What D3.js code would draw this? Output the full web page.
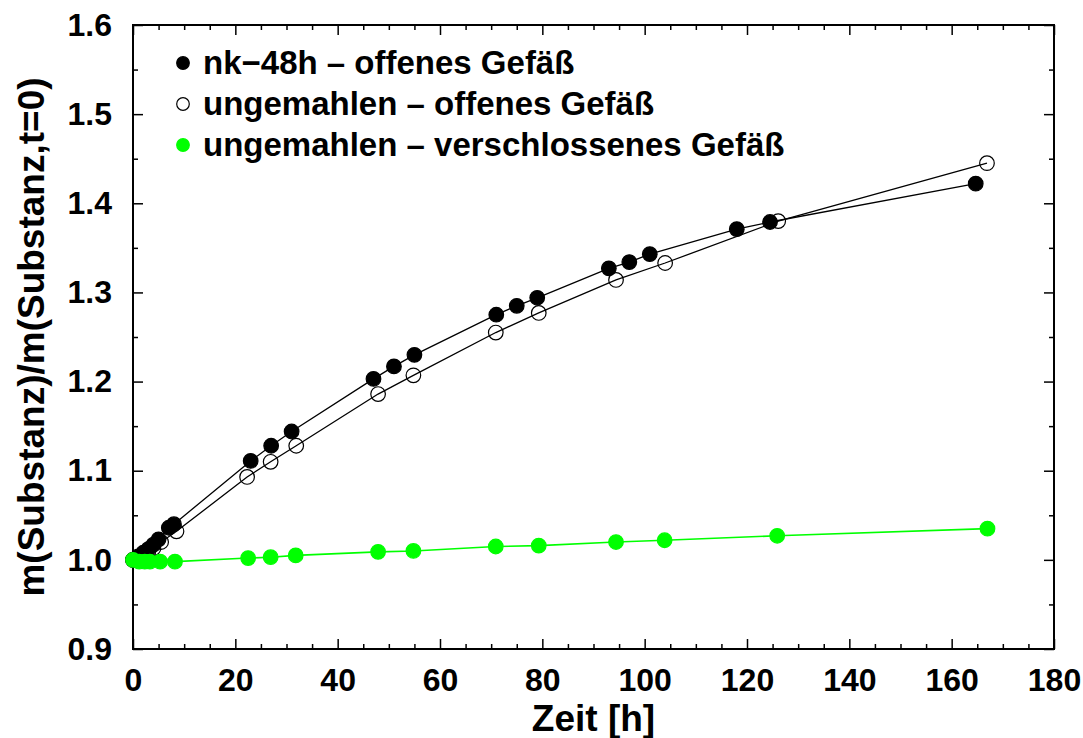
<!DOCTYPE html>
<html>
<head>
<meta charset="utf-8">
<script src="https://cdn.jsdelivr.net/npm/d3@7"></script>
<style>
  body { margin: 0; background: #fff; }
  svg text { font-family: "Liberation Sans", Arial, sans-serif; font-weight: bold; }
</style>
</head>
<body>
<div class="chart"></div>
<script>
var w = 1083;
var h = 738;

// nk-48h - offenes Gefäß
var timeNk = [0, 1, 2, 3, 4, 5, 7, 8, 23, 27, 31, 47, 51, 55, 71, 75, 79, 93, 97, 101, 118, 124.5, 164.7];
var massNk = [1.000, 1.004, 1.008, 1.012, 1.017, 1.023, 1.036, 1.040, 1.111, 1.128, 1.144, 1.203, 1.217, 1.230,
              1.275, 1.285, 1.294, 1.327, 1.334, 1.343, 1.371, 1.379, 1.422];

// ungemahlen - offenes Gefäß
var timeOpen = [0, 1, 2, 3, 4, 5.5, 8.5, 22.3, 26.9, 31.9, 47.9, 54.8, 70.9, 79.3, 94.4, 104, 126.1, 166.9];
var massOpen = [1.000, 1.002, 1.005, 1.009, 1.013, 1.020, 1.032, 1.093, 1.110, 1.128, 1.186, 1.207,
                1.255, 1.277, 1.314, 1.333, 1.380, 1.445];

// ungemahlen - verschlossenes Gefäß
var timeClosed = [0, 1.2, 2.3, 3.3, 5.3, 8.2, 22.5, 26.9, 31.8, 47.9, 54.8, 70.9, 79.3, 94.4, 103.9, 125.9, 167.0];
var massClosed = [1.000, 0.998, 0.998, 0.998, 0.998, 0.998, 1.002, 1.003, 1.005, 1.009, 1.010, 1.015,
                  1.016, 1.020, 1.022, 1.027, 1.035];

var legendLabels = ["nk\u221248h \u2013 offenes Gefäß",
                    "ungemahlen \u2013 offenes Gefäß",
                    "ungemahlen \u2013 verschlossenes Gefäß"];

var xMajor = d3.range(0, 181, 20);
var xMinor = d3.range(0, 181, 5).filter(function (d) { return d % 20 !== 0; });
var yMajor = [0.9, 1.0, 1.1, 1.2, 1.3, 1.4, 1.5, 1.6];
var yMinor = [0.95, 1.05, 1.15, 1.25, 1.35, 1.45, 1.55];

var plotLeft = 133, plotRight = 1054, plotTop = 25, plotBottom = 649;

var xScale = d3.scaleLinear().domain([0, 180]).range([plotLeft, plotRight]);
var yScale = d3.scaleLinear().domain([0.9, 1.6]).range([plotBottom, plotTop]);

var svg = d3.select(".chart")
            .append("svg")
            .attr("width", w)
            .attr("height", h);

// ticks (inward) on all four sides
function addAxis(axis, tx, ty, values, size, labels) {
    var g = svg.append("g")
        .attr("transform", "translate(" + tx + "," + ty + ")")
        .call(axis.tickValues(values).tickSize(size).tickPadding(labels ? labels.pad : 0)
                  .tickFormat(labels ? labels.fmt : ""));
    g.select(".domain").remove();
    g.selectAll(".tick line").attr("stroke", "#000").attr("stroke-width", 1.5);
    g.selectAll("text").attr("font-size", "32px").attr("fill", "#000")
        .attr("font-family", "Liberation Sans, Arial, sans-serif");
    return g;
}

addAxis(d3.axisBottom(xScale), 0, plotBottom, xMajor, -10, { pad: 19, fmt: d3.format("d") });
addAxis(d3.axisBottom(xScale), 0, plotBottom, xMinor, -5);
addAxis(d3.axisTop(xScale), 0, plotTop, xMajor, -10);
addAxis(d3.axisTop(xScale), 0, plotTop, xMinor, -5);
addAxis(d3.axisLeft(yScale), plotLeft, 0, yMajor, -10, { pad: 21, fmt: d3.format(".1f") });
addAxis(d3.axisLeft(yScale), plotLeft, 0, yMinor, -5);
addAxis(d3.axisRight(yScale), plotRight, 0, yMajor, -10);
addAxis(d3.axisRight(yScale), plotRight, 0, yMinor, -5);

svg.append("rect")
    .attr("x", plotLeft)
    .attr("y", plotTop)
    .attr("width", plotRight - plotLeft)
    .attr("height", plotBottom - plotTop)
    .attr("fill", "none")
    .attr("stroke", "#000")
    .attr("stroke-width", 2);

var line = d3.line()
    .x(function (d) { return xScale(d[0]); })
    .y(function (d) { return yScale(d[1]); });

var series = [
    { t: timeOpen, m: massOpen, fill: "none", stroke: "#000", line: "#000", lw: 1.3 },
    { t: timeNk, m: massNk, fill: "#000", stroke: "#000", line: "#000", lw: 1.3 },
    { t: timeClosed, m: massClosed, fill: "#00ff00", stroke: "#00ff00", line: "#00ff00", lw: 1.6 }
];

series.forEach(function (s) {
    var pts = d3.zip(s.t, s.m);
    svg.append("path")
        .datum(pts)
        .attr("d", line)
        .attr("fill", "none")
        .attr("stroke", s.line)
        .attr("stroke-width", s.lw);
    svg.append("g")
        .selectAll("circle")
        .data(pts)
        .enter()
        .append("circle")
        .attr("cx", function (d) { return xScale(d[0]); })
        .attr("cy", function (d) { return yScale(d[1]); })
        .attr("r", 7.3)
        .attr("fill", s.fill)
        .attr("stroke", s.stroke)
        .attr("stroke-width", 1.2);
});

// legend
var legendSym = [
    { fill: "#000", stroke: "#000" },
    { fill: "#fff", stroke: "#000" },
    { fill: "#00ff00", stroke: "#00ff00" }
];
var legend = svg.append("g");
legend.selectAll("circle")
    .data(legendSym)
    .enter()
    .append("circle")
    .attr("cx", 183)
    .attr("cy", function (d, i) { return 63 + i * 41; })
    .attr("r", 6.3)
    .attr("fill", function (d) { return d.fill; })
    .attr("stroke", function (d) { return d.stroke; })
    .attr("stroke-width", 1.2);
legend.selectAll("text")
    .data(legendLabels)
    .enter()
    .append("text")
    .attr("x", 203)
    .attr("y", function (d, i) { return 63 + i * 41 + 11; })
    .attr("font-size", "33px")
    .attr("fill", "#000")
    .text(function (d) { return d; });

// axis titles
svg.append("text")
    .attr("x", (plotLeft + plotRight) / 2)
    .attr("y", 731)
    .attr("text-anchor", "middle")
    .attr("font-size", "37px")
    .attr("fill", "#000")
    .text("Zeit [h]");

svg.append("text")
    .attr("transform", "translate(44," + ((plotTop + plotBottom) / 2) + ") rotate(-90)")
    .attr("text-anchor", "middle")
    .attr("font-size", "37px")
    .attr("fill", "#000")
    .text("m(Substanz)/m(Substanz,t=0)");
</script>
</body>
</html>
